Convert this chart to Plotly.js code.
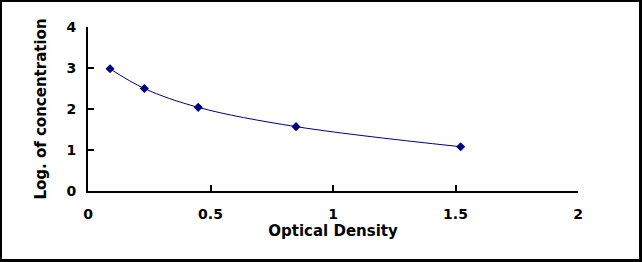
<!DOCTYPE html>
<html>
<head>
<meta charset="utf-8">
<script src="https://cdn.plot.ly/plotly-3.0.1.min.js"></script>
<style>
html,body{margin:0;padding:0;background:#fff;}
#wrap{position:relative;width:642px;height:262px;}
#chart{width:642px;height:262px;}
#frame{position:absolute;left:0;top:0;width:642px;height:262px;box-sizing:border-box;
border-top:2px solid #000;border-left:2px solid #000;border-right:3px solid #000;border-bottom:3px solid #000;pointer-events:none;}
#chart .xtick text, #chart .ytick text{font-weight:bold !important;}
</style>
</head>
<body>
<div id="wrap"><div id="chart"></div><div id="frame"></div></div>
<script>
const opticalDensity = [0.09, 0.23, 0.45, 0.849, 1.521];
const logConcentration = [2.98, 2.50, 2.04, 1.57, 1.08];
const xTicks = [0, 0.5, 1, 1.5, 2];
const xTickLabels = ['0', '0.5', '1', '1.5', '2'];
const yTicks = [0, 1, 2, 3, 4];
const yTickLabels = ['0', '1', '2', '3', '4'];
const xTitle = 'Optical Density';
const yTitle = 'Log. of concentration';

const font = 'DejaVu Sans, Liberation Sans, Arial, sans-serif';
const navy = '#000080';
const bold = s => '<b>' + s + '</b>';

const trace = {
  x: opticalDensity,
  y: logConcentration,
  type: 'scatter',
  mode: 'lines+markers',
  line: {color: navy, width: 1, shape: 'spline', smoothing: 1},
  marker: {symbol: 'diamond', size: 7, color: navy},
  hoverinfo: 'skip'
};

const layout = {
  width: 642, height: 262,
  margin: {l: 88, r: 64, t: 27, b: 71},
  paper_bgcolor: '#fff', plot_bgcolor: '#fff',
  showlegend: false,
  font: {family: font, color: '#000'},
  xaxis: {
    range: [0, 2], tickvals: xTicks, ticktext: xTickLabels,
    showgrid: false, zeroline: false, showline: true, linecolor: '#000', linewidth: 2,
    ticks: 'inside', ticklen: 6, tickwidth: 2, tickcolor: '#000',
    ticklabelstandoff: 9,
    tickfont: {family: font, size: 14, color: '#000', weight: 'bold'},
    title: {text: bold(xTitle), font: {family: font, size: 15, color: '#000'}, standoff: 2}
  },
  yaxis: {
    range: [0, 4], tickvals: yTicks, ticktext: yTickLabels,
    showgrid: false, zeroline: false, showline: true, linecolor: '#000', linewidth: 2,
    ticks: 'inside', ticklen: 6, tickwidth: 2, tickcolor: '#000',
    ticklabelstandoff: 7,
    tickfont: {family: font, size: 14, color: '#000', weight: 'bold'},
    title: {text: bold(yTitle), font: {family: font, size: 15, color: '#000'}, standoff: 16}
  }
};

Plotly.newPlot('chart', [trace], layout, {staticPlot: true, displayModeBar: false});
</script>
</body>
</html>
